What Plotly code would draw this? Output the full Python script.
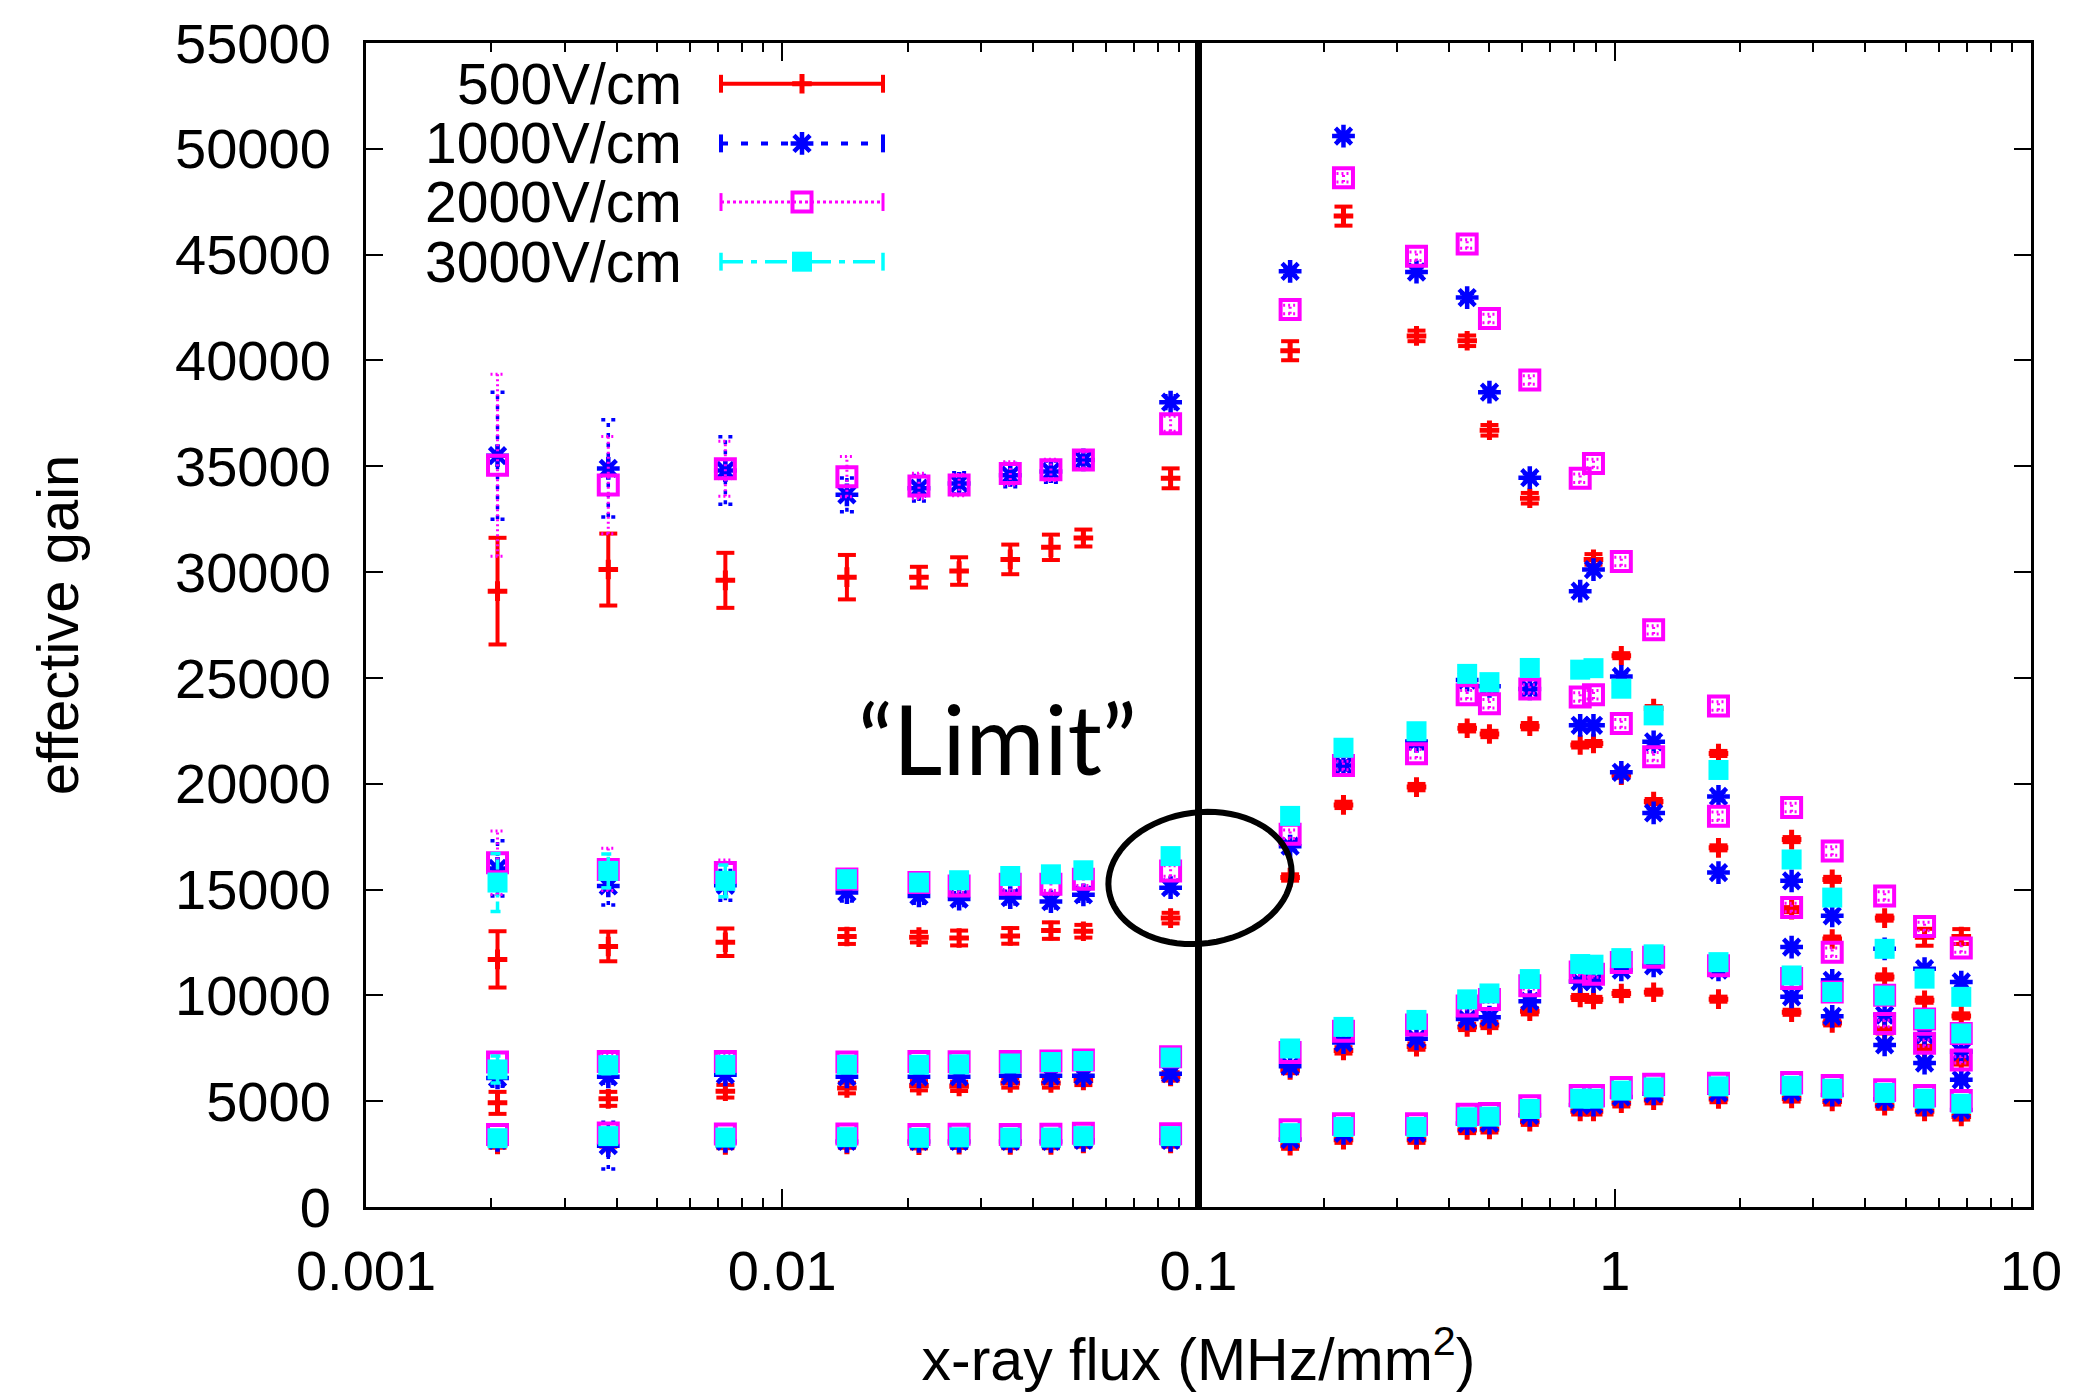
import math
import plotly.graph_objects as go

# ---------------------------------------------------------------- data
# x-ray flux (MHz/mm^2) at which the gain was measured
flux = [0.00207, 0.00382, 0.0073, 0.0143, 0.0213, 0.0266, 0.0353, 0.0442, 0.0529, 0.0857,
        0.166, 0.223, 0.334, 0.442, 0.50, 0.625, 0.826, 0.889, 1.037, 1.24, 1.775, 2.66,
        3.33, 4.45, 5.55, 6.8]

# 500 V/cm, four gain settings (b1 highest ... b4 lowest)
gain500_b1 = [29100, 30120, 29610, 29760, 29760, 30050, 30600, 31170, 31610, 34430,
              40460, 46820, 41160, 40930, 36700, 33490, None, 30600, 26050, 23550, 21430, 17360,
              15480, 13650, 12745, 12780]
err500_b1 = [2520, 1700, 1300, 1050, 490, 650, 700, 600, 400, 470,
             450, 450, 250, 250, 250, 250, None, 250, 120, 120, 120, 120,
             120, 120, 400, 350]
gain500_b2 = [11700, 12310, 12510, 12780, 12750, 12710, 12810, 13060, 13030, 13650,
              15570, 19000, 19840, 22620, 22350, 22720, 21830, 21900, 20400, 19160, 16970, 14050,
              12660, 10870, 9770, 9030]
err500_b2 = [1330, 700, 650, 350, 250, 350, 370, 390, 300, 250,
             150, 150, 150, 150, 150, 150, 120, 120, 120, 120, 120, 120,
             120, 120, 120, 120]
gain500_b3 = [4920, 5110, 5470, 5620, 5730, 5700, 5860, 5860, 5980, 6170,
              6470, 7400, 7580, 8510, 8600, 9250, 9900, 9810, 10090, 10150, 9820, 9200,
              8700, 8320, 7500, 6850]
err500_b3 = [520, 330, 300, 250, 220, 220, 220, 220, 220, 200,
             150, 150, 150, 150, 150, 150, 120, 120, 120, 120, 120, 120,
             120, 120, 120, 120]
gain500_b4 = [2950, 3000, 2930, 2950, 2920, 2940, 2930, 2930, 3000, 3000,
              2900, 3180, 3180, 3640, 3670, 4030, 4520, 4520, 4900, 5050, 5100, 5130,
              4990, 4790, 4520, 4280]
err500_b4 = [150, 150, 150, 150, 150, 150, 150, 150, 150, 150,
             150, 150, 150, 150, 150, 150, 150, 150, 150, 150, 150, 150,
             150, 150, 150, 150]

# 1000 V/cm
gain1000_b1 = [35500, 34900, 34800, 33650, 33960, 34190, 34580, 34750, 35300, 38030,
               44210, 50600, 44180, 42970, 38500, 34460, 29100, 30120, 25070, 21980, 19400, 15410,
               13760, 12200, 11260, 10630]
err1000_b1 = [3000, 2300, 1600, 800, 600, 500, 550, 500, 400, 300,
              200, 200, 200, 200, 200, 200, 200, 200, 200, 200, 200, 200,
              200, 200, 200, 200]
gain1000_b2 = [16000, 15170, 15200, 14860, 14700, 14550, 14620, 14430, 14750, 15090,
               17050, 20860, 22000, 24900, 24600, 24480, 22760, 22760, 20540, 18620, 15800, 12280,
               10710, 9070, 8130, 7340]
err1000_b2 = [1300, 900, 700, 400, 350, 300, 300, 300, 300, 250,
              200, 200, 200, 200, 200, 200, 200, 200, 200, 200, 200, 200,
              200, 200, 200, 200]
gain1000_b3 = [6100, 6150, 6250, 6150, 6150, 6150, 6200, 6200, 6200, 6300,
               6650, 7770, 7950, 8880, 8970, 9720, 10650, 10650, 11200, 11400, 11200, 9930,
               9010, 7660, 6800, 6010]
err1000_b3 = [400, 300, 250, 200, 200, 200, 200, 200, 200, 200,
              150, 150, 150, 150, 150, 150, 150, 150, 150, 150, 150, 150,
              150, 150, 150, 150]
gain1000_b4 = [3150, 2900, 3100, 3100, 3100, 3100, 3100, 3100, 3150, 3150,
               3190, 3480, 3480, 3940, 3970, 4330, 4820, 4820, 5200, 5350, 5400, 5430,
               5290, 5090, 4820, 4580]
err1000_b4 = [250, 1100, 200, 150, 150, 150, 150, 150, 150, 150,
              150, 150, 150, 150, 150, 150, 150, 150, 150, 150, 150, 150,
              150, 150, 150, 150]

# 2000 V/cm
gain2000_b1 = [35050, 34110, 34880, 34510, 34070, 34110, 34660, 34830, 35300, 37010,
               42410, 48630, 44920, 45500, 41980, 39080, 34430, 35130, 30500, 27270, 23670, 18880,
               16820, 14700, 13250, 12240]
err2000_b1 = [4300, 2300, 1300, 950, 600, 500, 550, 500, 400, 350,
              200, 200, 200, 200, 200, 200, 200, 200, 200, 200, 200, 200,
              200, 200, 200, 200]
gain2000_b2 = [16270, 15950, 15800, 15500, 15330, 15170, 15250, 15250, 15490, 15880,
               17610, 20860, 21420, 24200, 23780, 24480, 24100, 24200, 22840, 21280, 18460, 14150,
               12040, 10000, 8880, 8200]
err2000_b2 = [1500, 1000, 600, 350, 300, 300, 300, 300, 300, 250,
              200, 200, 200, 200, 200, 200, 200, 200, 200, 200, 200, 200,
              200, 200, 200, 200]
gain2000_b3 = [6850, 6880, 6880, 6850, 6870, 6860, 6870, 6900, 6950, 7100,
               7300, 8300, 8600, 9500, 9810, 10450, 11100, 11000, 11550, 11800, 11400, 10800,
               10160, 8670, 7740, 6950]
err2000_b3 = [450, 350, 300, 200, 200, 200, 200, 200, 200, 200,
              150, 150, 150, 150, 150, 150, 150, 150, 150, 150, 150, 150,
              150, 150, 150, 150]
gain2000_b4 = [3420, 3500, 3450, 3450, 3420, 3440, 3430, 3440, 3480, 3460,
               3650, 3930, 3930, 4380, 4420, 4780, 5270, 5270, 5650, 5800, 5850, 5880,
               5740, 5540, 5270, 5030]
err2000_b4 = [200, 200, 150, 150, 150, 150, 150, 150, 150, 150,
              150, 150, 150, 150, 150, 150, 150, 150, 150, 150, 150, 150,
              150, 150, 150, 150]

# 3000 V/cm (three gain settings)
gain3000_b2 = [15330, 15880, 15410, 15490, 15330, 15440, 15640, 15720, 15910, 16580,
               18480, 21700, 22480, 25190, 24800, 25470, 25390, 25460, 24490, 23230, 20650, 16420,
               14620, 12200, 10790, 9930]
err3000_b2 = [1370, 800, 750, 300, 300, 300, 300, 300, 300, 250,
              200, 200, 200, 200, 200, 200, 200, 200, 200, 200, 200, 200,
              200, 200, 200, 200]
gain3000_b3 = [6500, 6700, 6720, 6720, 6720, 6740, 6780, 6850, 6900, 7060,
               7490, 8510, 8840, 9810, 10090, 10770, 11480, 11450, 11760, 11940, 11570, 10940,
               10160, 9990, 8880, 8200]
err3000_b3 = [640, 400, 350, 200, 200, 200, 200, 200, 200, 200,
              150, 150, 150, 150, 150, 150, 150, 150, 150, 150, 150, 150,
              150, 150, 150, 150]
gain3000_b4 = [3250, 3350, 3280, 3300, 3270, 3290, 3280, 3280, 3350, 3350,
               3490, 3780, 3780, 4240, 4270, 4630, 5120, 5120, 5500, 5650, 5700, 5730,
               5590, 5390, 5120, 4880]
err3000_b4 = [200, 200, 150, 150, 150, 150, 150, 150, 150, 150,
              150, 150, 150, 150, 150, 150, 150, 150, 150, 150, 150, 150,
              150, 150, 150, 150]

x_tick_vals = [0.001, 0.01, 0.1, 1, 10]
x_tick_text = ["0.001", "0.01", "0.1", "1", "10"]
limit_flux = 0.1
legend_labels = ["500V/cm", "1000V/cm", "2000V/cm", "3000V/cm"]

# ---------------------------------------------------------------- layout geometry
W, H = 2086, 1394
M_L, M_R, M_T, M_B = 366, 55, 37, 186
PW = W - M_L - M_R
PH = H - M_T - M_B
DECADE_PX = PW / 4.0
FONT = "Liberation Sans, Arial, Helvetica, sans-serif"


def paper(px, py):
    """Pixel position on the page -> paper fraction of the plot area."""
    return (px - M_L) / PW, (H - M_B - py) / PH


def collect(bands, errs):
    xs, ys, es = [], [], []
    for band, err in zip(bands, errs):
        for x, y, e in zip(flux, band, err):
            if y is None:
                continue
            xs.append(x)
            ys.append(y)
            es.append(e)
    return xs, ys, es


def errorbar_segments(xs, ys, es, cap_px):
    """Vertical bars plus end caps as one broken polyline (for dashed styles)."""
    f = 10 ** (cap_px / DECADE_PX)
    bx, by = [], []
    for x, y, e in zip(xs, ys, es):
        lo, hi = y - e, y + e
        bx += [x, x, None, x / f, x * f, None, x / f, x * f, None]
        by += [lo, hi, None, hi, hi, None, lo, lo, None]
    return bx, by


styles = [
    # colour, symbol, size, stroke, cap half-width, bar dash, bar width
    ("#ff0000", "cross-thin-open", 14, 5, 9, "solid", 4),
    ("#0000ff", "asterisk-open", 19, 4.5, 7, "4px,6px", 3.5),
    ("#ff00ff", "square-open", 19, 4, 7, "2px,3px", 3),
    ("#00ffff", "square", 20, 0, 7, "10px,4px,3px,4px", 3.5),
]

series = [
    ([gain500_b1, gain500_b2, gain500_b3, gain500_b4],
     [err500_b1, err500_b2, err500_b3, err500_b4]),
    ([gain1000_b1, gain1000_b2, gain1000_b3, gain1000_b4],
     [err1000_b1, err1000_b2, err1000_b3, err1000_b4]),
    ([gain2000_b1, gain2000_b2, gain2000_b3, gain2000_b4],
     [err2000_b1, err2000_b2, err2000_b3, err2000_b4]),
    ([gain3000_b2, gain3000_b3, gain3000_b4],
     [err3000_b2, err3000_b3, err3000_b4]),
]

fig = go.Figure()

# threshold line at 0.1 MHz/mm^2
fig.add_trace(go.Scatter(x=[limit_flux, limit_flux], y=[0, 55000], mode="lines",
                         line=dict(color="black", width=7), showlegend=False,
                         hoverinfo="skip"))

for (bands, errs), style, label in zip(series, styles, legend_labels):
    color, symbol, size, stroke, cap, dash, bw = style
    xs, ys, es = collect(bands, errs)
    bx, by = errorbar_segments(xs, ys, es, cap)
    fig.add_trace(go.Scatter(
        x=bx, y=by, mode="lines", line=dict(color=color, width=bw, dash=dash),
        connectgaps=False, showlegend=False, hoverinfo="skip",
    ))
    fig.add_trace(go.Scatter(
        x=xs, y=ys, mode="markers", name=label, showlegend=False,
        marker=dict(symbol=symbol, size=size, color=color,
                    line=dict(color=color, width=stroke)),
    ))

# ---------------------------------------------------------------- key (top-left, gnuplot style)
key_rows_py = [78, 138, 197, 257]
key_x0, key_xm, key_x1 = paper(721, 0)[0], paper(802, 0)[0], paper(883, 0)[0]
key_text_x = paper(684, 0)[0]
key_dash = ["solid", "7px,13px", "3px,3px", "22px,8px,6px,8px"]
key_width = [4, 4, 3, 3.5]
cap_half = 9 / PH

annotations = []
for i, (style, label) in enumerate(zip(styles, legend_labels)):
    color, symbol, size, stroke = style[:4]
    ky = paper(0, key_rows_py[i])[1]
    fig.add_trace(go.Scatter(
        x=[key_x0, key_xm, key_x1], y=[ky, ky, ky], xaxis="x2", yaxis="y2",
        mode="lines", line=dict(color=color, width=key_width[i], dash=key_dash[i]),
        showlegend=False, hoverinfo="skip",
        error_y=dict(type="data", array=[cap_half, 0, cap_half], visible=True,
                     color=color, thickness=key_width[i], width=0),
    ))
    fig.add_trace(go.Scatter(
        x=[key_xm], y=[ky], xaxis="x2", yaxis="y2", mode="markers",
        marker=dict(symbol=symbol, size=size, color=color,
                    line=dict(color=color, width=stroke)),
        showlegend=False, hoverinfo="skip",
    ))
    annotations.append(dict(
        x=key_text_x, y=ky, xref="paper", yref="paper", text=label,
        showarrow=False, xanchor="right", yanchor="middle",
        font=dict(family=FONT, size=57, color="black"),
    ))

# "Limit" label
lx, ly = paper(997, 736)
annotations.append(dict(
    x=lx, y=ly, xref="paper", yref="paper", text="\u201cLimit\u201d",
    showarrow=False, xanchor="center", yanchor="middle",
    font=dict(family="Lato, Open Sans, sans-serif", size=96, color="black"),
))

# ellipse drawn round the threshold region
cx, cy, ra, rb, tilt = 1200, 877, 92, 66, math.radians(-7.5)
pts = []
for k in range(73):
    t = 2 * math.pi * k / 72
    ex = cx + ra * math.cos(t) * math.cos(tilt) - rb * math.sin(t) * math.sin(tilt)
    ey = cy + ra * math.cos(t) * math.sin(tilt) + rb * math.sin(t) * math.cos(tilt)
    px_, py_ = paper(ex, ey)
    pts.append(f"{px_:.5f},{py_:.5f}")
ellipse_path = "M" + " L".join(pts) + " Z"

minor_vals = [m * 10.0 ** e for e in range(-3, 1) for m in range(2, 10)]

fig.update_layout(
    width=W, height=H,
    margin=dict(l=M_L, r=M_R, t=M_T, b=M_B),
    paper_bgcolor="white", plot_bgcolor="white",
    font=dict(family=FONT, color="black", size=56),
    showlegend=False,
    annotations=annotations,
    shapes=[dict(type="path", path=ellipse_path, xref="paper", yref="paper",
                 line=dict(color="black", width=6), fillcolor="rgba(0,0,0,0)")],
    xaxis=dict(
        type="log", range=[-3, 1], tickmode="array", tickvals=x_tick_vals,
        ticktext=x_tick_text, ticks="inside", ticklen=18, tickwidth=2,
        tickcolor="black", showline=True, linewidth=3, linecolor="black",
        mirror="allticks", showgrid=False, zeroline=False,
        tickfont=dict(family=FONT, size=56), ticklabelstandoff=13,
        minor=dict(tickmode="array", tickvals=minor_vals, ticks="inside",
                   ticklen=9, tickwidth=2, tickcolor="black", showgrid=False),
        title=dict(text="x-ray flux (MHz/mm<sup>2</sup>)",
                   font=dict(family=FONT, size=59), standoff=38),
    ),
    yaxis=dict(
        range=[0, 55000], tickmode="linear", tick0=0, dtick=5000, tickformat="d",
        ticks="inside", ticklen=17, tickwidth=2, tickcolor="black",
        showline=True, linewidth=3, linecolor="black", mirror="allticks",
        showgrid=False, zeroline=False, tickfont=dict(family=FONT, size=56),
        ticklabelstandoff=21,
        title=dict(text="effective gain", font=dict(family=FONT, size=58), standoff=78),
    ),
    xaxis2=dict(overlaying="x", range=[0, 1], visible=False, fixedrange=True),
    yaxis2=dict(overlaying="y", range=[0, 1], visible=False, fixedrange=True),
)

fig.write_html("out.html")
